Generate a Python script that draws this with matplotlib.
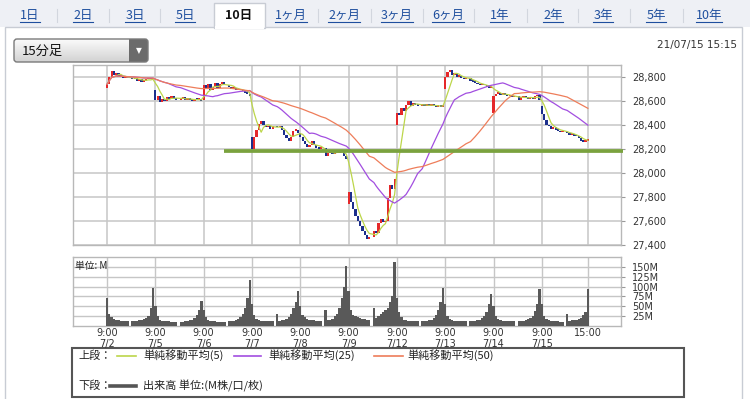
import matplotlib
matplotlib.use('Agg')
import matplotlib.pyplot as plt
import numpy as np
import pandas as pd
from matplotlib.patches import Rectangle, FancyBboxPatch
from matplotlib.ticker import FuncFormatter

W, H = 750, 399
JP = ['Noto Sans CJK JP', 'DejaVu Sans']
plt.rcParams['font.family'] = ['DejaVu Sans', 'Noto Sans CJK JP']

# ---------------- data ----------------
days = ['7/2', '7/5', '7/6', '7/7', '7/8', '7/9', '7/12', '7/13', '7/14', '7/15']
day_open = [28710, 28690, 28610, 28300, 28330, 27740, 28400, 28700, 28500, 28560]

# 15-minute closes: 10 morning bars + 10 afternoon bars per day
c_0702 = [28740, 28800, 28850, 28820, 28830, 28800, 28810, 28790, 28800, 28790,
          28780, 28790, 28770, 28780, 28760, 28770, 28780, 28790, 28780, 28783]
c_0705 = [28610, 28640, 28590, 28620, 28600, 28630, 28620, 28640, 28620, 28610,
          28620, 28630, 28610, 28620, 28610, 28600, 28620, 28610, 28620, 28598]
c_0706 = [28730, 28700, 28740, 28690, 28720, 28750, 28710, 28740, 28760, 28730,
          28720, 28700, 28710, 28690, 28700, 28690, 28680, 28670, 28660, 28645]
c_0707 = [28200, 28300, 28360, 28410, 28430, 28400, 28380, 28390, 28370, 28390,
          28380, 28390, 28360, 28320, 28290, 28270, 28300, 28350, 28360, 28330]
c_0708 = [28300, 28270, 28240, 28220, 28230, 28270, 28230, 28210, 28200, 28205,
          28140, 28170, 28180, 28160, 28180, 28170, 28185, 28175, 28140, 28118]
c_0709 = [27840, 27760, 27700, 27640, 27600, 27560, 27520, 27480, 27450, 27470,
          27520, 27500, 27580, 27620, 27590, 27600, 27790, 27900, 27870, 27950]
c_0712 = [28500, 28480, 28540, 28520, 28570, 28600, 28560, 28580, 28570, 28560,
          28570, 28560, 28570, 28560, 28570, 28560, 28550, 28560, 28550, 28570]
c_0713 = [28800, 28840, 28860, 28820, 28830, 28800, 28810, 28790, 28780, 28790,
          28770, 28760, 28750, 28740, 28730, 28740, 28730, 28720, 28710, 28718]
c_0714 = [28640, 28660, 28670, 28650, 28660, 28650, 28640, 28650, 28630, 28640,
          28610, 28630, 28640, 28630, 28620, 28630, 28620, 28640, 28650, 28610]
c_0715 = [28490, 28440, 28400, 28390, 28370, 28380, 28360, 28350, 28340, 28345,
          28330, 28320, 28325, 28310, 28305, 28290, 28270, 28260, 28265, 28280]

# volume (M) per bar
v_0702 = [72, 30, 22, 17, 15, 14, 13, 13, 12, 12, 12, 12, 13, 14, 15, 17, 20, 26, 45, 96]
v_0705 = [50, 25, 16, 13, 12, 11, 11, 10, 10, 10, 10, 10, 11, 12, 14, 16, 20, 28, 40, 62]
v_0706 = [40, 22, 15, 12, 11, 11, 10, 10, 10, 10, 11, 12, 13, 15, 18, 22, 30, 45, 70, 118]
v_0707 = [55, 28, 18, 14, 13, 12, 12, 11, 11, 11, 29, 13, 16, 15, 18, 22, 30, 45, 60, 90]
v_0708 = [50, 28, 22, 18, 16, 15, 14, 13, 13, 12, 40, 14, 16, 18, 24, 30, 45, 70, 100, 152]
v_0709 = [90, 40, 28, 24, 22, 20, 18, 17, 16, 15, 46, 20, 25, 30, 35, 40, 45, 60, 75, 164]
v_0712 = [70, 35, 22, 16, 14, 13, 12, 12, 11, 11, 12, 12, 13, 14, 16, 20, 28, 40, 60, 96]
v_0713 = [55, 26, 17, 14, 13, 12, 12, 11, 11, 11, 11, 12, 13, 14, 16, 20, 26, 35, 55, 82]
v_0714 = [50, 25, 17, 14, 13, 12, 12, 11, 11, 11, 12, 12, 13, 15, 17, 20, 26, 38, 55, 94]
v_0715 = [55, 26, 17, 14, 12, 12, 11, 11, 10, 10, 31, 13, 14, 15, 16, 17, 20, 28, 36, 93]

price_ticks = [27400, 27600, 27800, 28000, 28200, 28400, 28600, 28800]
vol_ticks = [25, 50, 75, 100, 125, 150]
support_level = 28180
tabs = ['1日', '2日', '3日', '5日', '10日', '1ヶ月', '2ヶ月', '3ヶ月', '6ヶ月',
        '1年', '2年', '3年', '5年', '10年']
selected_tab = '10日'

closes_by_day = [c_0702, c_0705, c_0706, c_0707, c_0708, c_0709, c_0712, c_0713, c_0714, c_0715]
vols_by_day = [v_0702, v_0705, v_0706, v_0707, v_0708, v_0709, v_0712, v_0713, v_0714, v_0715]

# ---------------- build series ----------------
SLOTS = 21  # 10 morning + lunch gap + 10 afternoon
xs, opens, closes, vols = [], [], [], []
for d, (cl, vl) in enumerate(zip(closes_by_day, vols_by_day)):
    prev = day_open[d]
    for k, (c, v) in enumerate(zip(cl, vl)):
        slot = k if k < 10 else k + 1
        xs.append(d * SLOTS + slot)
        opens.append(prev)
        closes.append(c)
        vols.append(v)
        prev = c
xs = np.array(xs, float)
opens = np.array(opens, float)
closes = np.array(closes, float)
vols = np.array(vols, float)

s = pd.Series(closes)
ma5 = s.rolling(5, min_periods=1).mean()
ma25 = s.rolling(25, min_periods=1).mean()
ma50 = s.rolling(50, min_periods=1).mean()

tick_pos = [d * SLOTS for d in range(len(days))] + [9 * SLOTS + 20]
tick_lab = [f'9:00\n{d}' for d in days] + ['15:00']

C5, C25, C50 = '#bcd64a', '#a24ee0', '#ee7d5a'
RED, BLUE = '#e5282a', '#1c2f8c'
GRID = '#c6c6c6'

# ---------------- figure ----------------
fig = plt.figure(figsize=(W / 100, H / 100), dpi=100)
fig.patch.set_facecolor('white')
bg = fig.add_axes([0, 0, 1, 1])
bg.set_xlim(0, W)
bg.set_ylim(H, 0)
bg.axis('off')

# tab bar & panel
bg.add_patch(Rectangle((0, 0), W, 27, facecolor='#eef0f5', edgecolor='none'))
bg.add_patch(Rectangle((4.5, 27), 737.5, 380, facecolor='white', edgecolor='#c8ccd4', lw=1))
bg.add_patch(Rectangle((214, 3), 51, 25, facecolor='white', edgecolor='#c8ccd4', lw=1))
bg.add_patch(Rectangle((214.8, 25.5), 49.4, 3, facecolor='white', edgecolor='none', zorder=3))

tab_x = [30, 83, 135, 185, 239, 291, 344, 397, 448, 500, 553, 603, 656, 709]
tab_texts = []
for t, tx in zip(tabs, tab_x):
    if t == selected_tab:
        bg.text(tx, 15.5, t, ha='center', va='center', fontsize=9, family=JP,
                fontweight='bold', color='#111')
    else:
        tt = bg.text(tx, 15.5, t, ha='center', va='center', fontsize=9, family=JP,
                     color='#1f4f9e')
        tab_texts.append(tt)
sel_i = tabs.index(selected_tab)
for i in range(len(tabs) - 1):
    if i in (sel_i - 1, sel_i):
        continue
    mx = (tab_x[i] + tab_x[i + 1]) / 2
    bg.plot([mx, mx], [9, 22], color='#d2d6de', lw=0.8)

# dropdown
dd = FancyBboxPatch((14, 39), 134, 23, boxstyle='round,pad=0,rounding_size=3',
                    facecolor='none', edgecolor='#7a7a7a', lw=1, zorder=4)
bg.add_patch(dd)
grad = np.linspace(0, 1, 50).reshape(-1, 1)
im = bg.imshow(grad, extent=(14, 148, 62, 39), cmap=matplotlib.colors.LinearSegmentedColormap.from_list(
    'g', ['#fbfbfb', '#d2d2d2']), aspect='auto', zorder=2)
im.set_clip_path(dd)
arrow_bg = Rectangle((129, 39), 19, 23, facecolor='#6b6b6b', edgecolor='none', zorder=3)
bg.add_patch(arrow_bg)
arrow_bg.set_clip_path(dd)
bg.text(138.5, 50.5, '▼', ha='center', va='center', fontsize=5.5, color='white', zorder=5)
bg.text(22, 51, '15分足', ha='left', va='center', fontsize=9.5, family=JP, color='#111', zorder=5)
bg.text(737, 45, '21/07/15 15:15', ha='right', va='center', fontsize=7.5, color='#333')

# legend box
bg.add_patch(Rectangle((72, 348), 612, 49, facecolor='white', edgecolor='#555', lw=1.5))
ly1, ly2 = 355.5, 386
bg.text(78, ly1, '上段：', ha='left', va='center', fontsize=8, family=JP, color='#222')
bg.plot([117, 136], [ly1, ly1], color=C5, lw=1.2)
bg.text(143, ly1, '単純移動平均(5)', ha='left', va='center', fontsize=8, family=JP, color='#222')
bg.plot([234, 261], [ly1, ly1], color=C25, lw=1.2)
bg.text(268, ly1, '単純移動平均(25)', ha='left', va='center', fontsize=8, family=JP, color='#222')
bg.plot([374, 403], [ly1, ly1], color=C50, lw=1.2)
bg.text(407, ly1, '単純移動平均(50)', ha='left', va='center', fontsize=8, family=JP, color='#222')
bg.text(78, ly2, '下段：', ha='left', va='center', fontsize=8, family=JP, color='#222')
bg.plot([110, 136], [ly2, ly2], color='#555', lw=2.6)
bg.text(143, ly2, '出来高 単位:(M株/口/枚)', ha='left', va='center', fontsize=8, family=JP, color='#222')

# ---------------- price axes ----------------
XL = (-14.8, 223.4)
ax = fig.add_axes([73 / W, 1 - 245 / H, 548 / W, 180 / H])
ax.set_facecolor('white')
ax.set_xlim(*XL)
ax.set_ylim(27400, 28900)
ax.set_xticks(tick_pos)
ax.set_yticks(price_ticks)
ax.grid(True, color=GRID, lw=1.1)
ax.set_axisbelow(True)
ax.yaxis.tick_right()
ax.yaxis.set_major_formatter(FuncFormatter(lambda v, p: f'{int(v):,}'))
ax.tick_params(axis='x', length=0, labelbottom=False)
ax.tick_params(axis='y', length=3, color='#999', labelsize=7, labelcolor='#333', pad=5)
for sp in ax.spines.values():
    sp.set_color('#b8b8b8')
    sp.set_linewidth(1)

up = closes >= opens
bottoms = np.minimum(opens, closes)
heights = np.maximum(np.abs(closes - opens), 14)
ax.bar(xs, heights, bottom=bottoms, width=0.95, color=np.where(up, RED, BLUE),
       linewidth=0, zorder=3)
ax.plot(xs, ma5, color=C5, lw=0.9, zorder=4)
ax.plot(xs, ma25, color=C25, lw=0.9, zorder=4)
ax.plot(xs, ma50, color=C50, lw=0.9, zorder=4)
ax.plot([50.8, 224.3], [support_level, support_level], color='#7aa23e', lw=2.7,
        clip_on=False, zorder=5, solid_capstyle='butt')

# ---------------- volume axes ----------------
axv = fig.add_axes([73 / W, 1 - 325.8 / H, 548 / W, 68.8 / H])
axv.set_facecolor('white')
axv.set_xlim(*XL)
axv.set_ylim(0, 175.5)
axv.set_xticks(tick_pos)
axv.set_xticklabels(tick_lab, fontsize=7, color='#333', linespacing=1.15)
axv.set_yticks(vol_ticks)
axv.set_yticklabels([f'{v}M' for v in vol_ticks])
axv.grid(True, color=GRID, lw=1.0)
axv.set_axisbelow(True)
axv.yaxis.tick_right()
axv.tick_params(axis='x', length=0, pad=1.5)
axv.tick_params(axis='y', length=3, color='#999', labelsize=7, labelcolor='#333', pad=5)
for sp in axv.spines.values():
    sp.set_color('#b8b8b8')
    sp.set_linewidth(1)
axv.bar(xs, vols, width=1.0, color='#595959', linewidth=0, zorder=3)
axv.text((75 - 73) / 548, (325.8 - 265.5) / 68.8, '単位: M', transform=axv.transAxes,
         ha='left', va='center', fontsize=7, family=JP, color='#222', zorder=6)

# underline the tab links
fig.canvas.draw()
r = fig.canvas.get_renderer()
inv = bg.transData.inverted()
for tt in tab_texts:
    bb = tt.get_window_extent(r)
    (x0, _), (x1, _) = inv.transform([(bb.x0, bb.y0), (bb.x1, bb.y0)])
    bg.plot([x0, x1], [21.5, 21.5], color='#1f4f9e', lw=0.8)

fig.savefig('out.png', dpi=100)
